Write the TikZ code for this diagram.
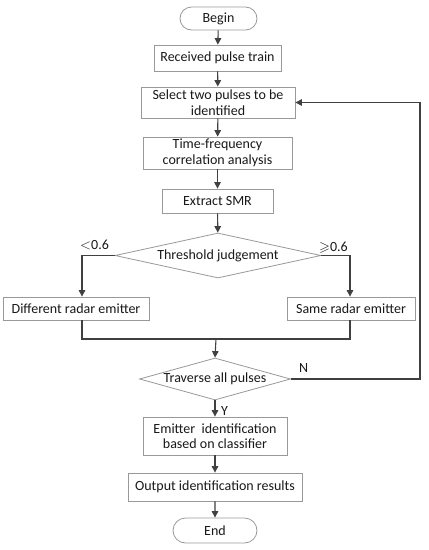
\documentclass[tikz,border=0pt]{standalone}
\usepackage{fontspec}
\usepackage{amssymb}
\setmainfont{Carlito}
\usetikzlibrary{shapes.geometric,shapes.misc,arrows.meta}
\begin{document}
\begin{tikzpicture}[x=1pt,y=-1pt,
  font=\fontsize{14}{15.5}\selectfont,
  box/.style={draw=black!40, line width=0.8pt, rectangle, inner sep=0pt, align=center, text=black!90},
  term/.style={draw=black!40, line width=0.8pt, rounded rectangle, inner sep=0pt, text=black!90},
  dia/.style={draw=black!40, line width=0.8pt, diamond, inner sep=0pt, shape aspect=4, text=black!90},
  conn/.style={draw=black!75, line width=1.1pt},
  arr/.style={conn, -{Triangle[length=6.5pt,width=6.5pt]}},
  lbl/.style={text=black!90, inner sep=1pt}]
\useasboundingbox[fill=white] (0,0) rectangle (429,550);
\node[term, minimum width=77, minimum height=23] (begin) at (218.5,18.5) {Begin};
\node[box, minimum width=127, minimum height=26] (recv) at (217.5,58) {Received pulse train};
\node[box, minimum width=154, minimum height=31] (sel) at (218,102.5) {Select two pulses to be\\identified};
\node[box, minimum width=149, minimum height=32] (tf) at (217.5,153) {Time-frequency\\correlation analysis};
\node[box, minimum width=111, minimum height=24] (smr) at (217.5,201) {Extract SMR};
\node[dia, minimum width=206, minimum height=45] (thr) at (218,255.5) {Threshold judgement};
\node[box, minimum width=146, minimum height=23] (diff) at (76,308.5) {Different radar emitter};
\node[box, minimum width=128, minimum height=23] (same) at (351,308.5) {Same radar emitter};
\node[dia, minimum width=151, minimum height=42] (trav) at (215,379) {Traverse all pulses};
\node[box, minimum width=144, minimum height=38] (emit) at (215,436) {Emitter\ \ identification\\based on classifier};
\node[box, minimum width=174, minimum height=28] (out) at (215,487) {Output identification results};
\node[term, minimum width=84, minimum height=25] (end) at (215,530.5) {End};
\node[lbl, anchor=south west] (lt) at (79,251) {$<$0.6};
\node[lbl, anchor=south west] (ge) at (318,255) {$\geqslant$0.6};
\node[lbl, anchor=south west] (nl) at (298,374) {N};
\node[lbl, anchor=west] (yl) at (220,411) {Y};
\coordinate (j) at (216,339);
\coordinate (rx) at (420,0);
\draw[arr] (begin) -- (recv);
\draw[arr] (recv) -- (sel);
\draw[arr] (sel) -- (tf);
\draw[arr] (tf) -- (smr);
\draw[arr] (smr) -- (thr);
\draw[arr] (thr.west) -| ([xshift=6pt]diff.north);
\draw[arr] (thr.east) -| ([xshift=-1pt]same.north);
\draw[conn] ([xshift=6pt]diff.south) |- (j) -| ([xshift=-1pt]same.south);
\draw[arr] (j) -- (trav.north);
\draw[arr] (trav.east) -- (trav.east -| rx) |- (sel.east);
\draw[arr] (trav) -- (emit);
\draw[arr] (emit) -- (out);
\draw[arr] (out) -- (end);
\end{tikzpicture}
\end{document}
